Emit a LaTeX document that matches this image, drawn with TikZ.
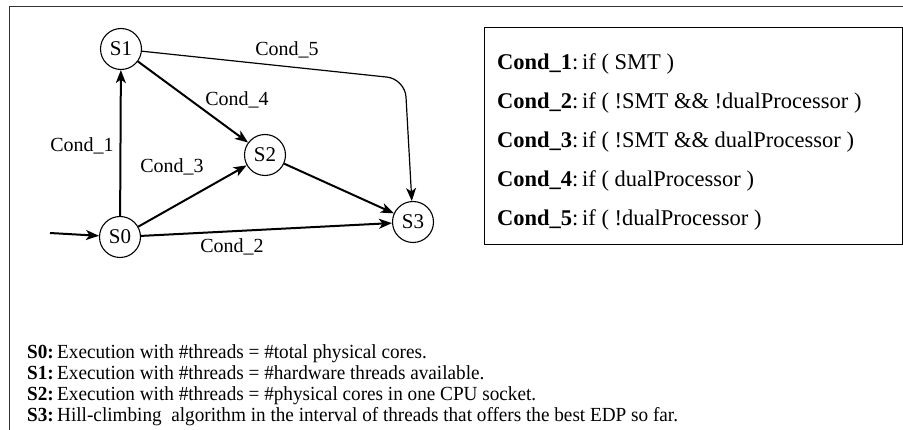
\documentclass[tikz,border=0pt]{standalone}
\usepackage{fontspec}
\setmainfont{Liberation Serif}
\newfontfamily\narrowserif[FakeStretch=0.96]{Liberation Serif}
\usetikzlibrary{arrows.meta,positioning}
\tikzset{
	state/.style={draw,circle,line width=1.1pt,minimum size=41pt,inner sep=0pt,
		font=\fontsize{21}{22}\selectfont},
	ar/.style={-{Stealth[length=13pt,width=10pt,inset=3.5pt]},line width=2pt},
	ar thin/.style={ar,line width=1.2pt},
	cond label/.style={font=\fontsize{20}{22}\selectfont,inner sep=0pt},
	cond line/.style={anchor=base west,inner sep=0pt,font=\fontsize{22.5}{24}\selectfont},
	state line/.style={anchor=base west,inner sep=0pt,font=\narrowserif\fontsize{20}{21}\selectfont},
	frame/.style={draw=black!80,line width=1pt}
}
\begin{document}
\begin{tikzpicture}[x=1pt,y=-1pt]
	\useasboundingbox (0,0) rectangle (903,430);
	\draw[frame] (903,7) -- (9,7) -- (9,430);
	% states
	\node[state] (S0) at (120,237) {S0};
	\node[state] (S1) at (121,49) {S1};
	\node[state] (S2) at (265,155) {S2};
	\node[state] (S3) at (413,222) {S3};
	\coordinate (init) at (50,233);
	\coordinate (bend) at (405,79);
	% transitions
	\draw[ar] (init) -- (S0);
	\draw[ar] (S0) -- (S1);
	\draw[ar] (S1) -- (S2);
	\draw[ar] (S0) -- (S2);
	\draw[ar] (S2) -- (S3);
	\draw[ar] (S0) -- (S3);
	\draw[ar thin,rounded corners=18pt] (S1) -- (bend) -- (S3);
	\node[cond label] (c1) at (82,146) {Cond\_1};
	\node[cond label] (c2) at (232,247) {Cond\_2};
	\node[cond label] (c3) at (172,167) {Cond\_3};
	\node[cond label] (c4) at (237,100) {Cond\_4};
	\node[cond label] (c5) at (287,50) {Cond\_5};
	% conditions
	\node[draw,line width=1pt,minimum width=418pt,minimum height=217pt] (box) at (693,136.5) {};
	\foreach \cnd [count=\i] in {{SMT},{!SMT \&\& !dualProcessor},{!SMT \&\& dualProcessor},
			{dualProcessor},{!dualProcessor}}
		\node[cond line] (cl\i) at (497,{70+39*(\i-1)}) {\textbf{Cond\_\i}:\,if ( \cnd\ )};
	% state descriptions
	\foreach \txt [count=\i from 0] in {{Execution with \#threads = \#total physical cores.},
			{Execution with \#threads = \#hardware threads available.},
			{Execution with \#threads = \#physical cores in one CPU socket.},
			{Hill-climbing \ algorithm in the interval of threads that offers the best EDP so far.}}
		\node[state line] (sl\i) at (27,{359+21*\i}) {\textbf{S\i:}\,\txt};
\end{tikzpicture}
\end{document}
